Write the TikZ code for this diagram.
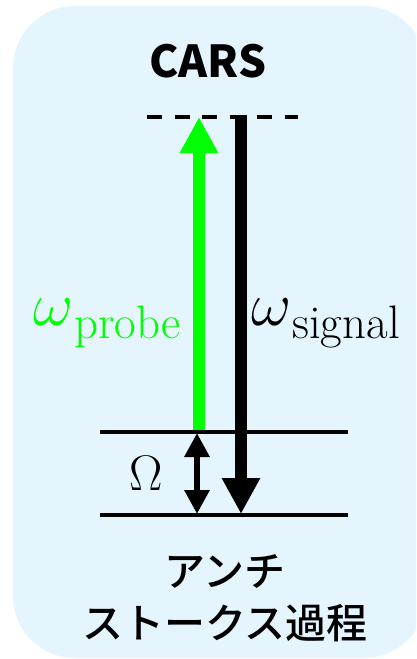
\RequirePackage{fix-cm}
\documentclass[tikz,border=0pt]{standalone}
\usepackage[no-math]{fontspec}
\usepackage{amsmath}
\usetikzlibrary{arrows.meta}
\newfontfamily\cjk{Noto Sans CJK JP}
\newfontfamily\cjkmed{Noto Sans CJK JP Medium}
\definecolor{panel}{RGB}{228,245,253}
\definecolor{probegreen}{RGB}{0,255,0}

\begin{document}
\begin{tikzpicture}
    	[x=1pt, y=1pt,
    	 level/.style={line width=4pt},
    	 virtual/.style={line width=4.5pt, dash pattern=on 15pt off 12.5pt},
    	 beam/.style={line width=12pt, -{Triangle[width=36pt, length=36pt]}},
    	 gap/.style={line width=6pt, {Triangle[width=24pt, length=24pt]}-{Triangle[width=24pt, length=24pt]}},
    	 title/.style={font=\cjk\bfseries\fontsize{44}{50}\selectfont},
    	 jp/.style={font=\cjkmed\fontsize{41}{52}\selectfont, align=center}]
    	\useasboundingbox (0,0) rectangle (416,-659);
    	\begin{scope}
    	    \clip (0,0) rectangle (416,-659);
    	    \fill[panel, rounded corners=62pt] (13,-6) rectangle (426,-658);
    	\end{scope}
	
    	\node (title) at (208,-61) [title] {CARS};
	
    	% energy levels
    	\coordinate (vl) at (147,-117);
    	\coordinate (vr) at (298,-117);
    	\coordinate (el) at (100,-432);
    	\coordinate (er) at (348,-432);
    	\coordinate (gl) at (100,-515);
    	\coordinate (gr) at (348,-515);
    	\draw[virtual] (vl) -- (vr);
    	\draw[level] (el) -- (er);
    	\draw[level] (gl) -- (gr);
	
    	% transitions
    	\coordinate (pb) at (199,-430);
    	\coordinate (pt) at (199,-117);
    	\coordinate (st) at (241,-115);
    	\coordinate (sb) at (241,-514);
    	\coordinate (ot) at (197,-433);
    	\coordinate (ob) at (197,-514);
    	\draw[beam, probegreen] (pb) -- (pt);
    	\draw[beam] (st) -- (sb);
    	\draw[gap] (ob) -- (ot);
	
    	\node (probe) at (33,-325) [anchor=base west, inner sep=0pt, text=probegreen]
    	    {\fontsize{62}{66}\selectfont$\omega$\hspace{1pt}\raisebox{-13pt}{\fontsize{47}{52}\selectfont probe}};
    	\node (signal) at (251,-325) [anchor=base west, inner sep=0pt]
    	    {\fontsize{62}{66}\selectfont$\omega$\hspace{1pt}\raisebox{-13pt}{\fontsize{47}{52}\selectfont signal}};
    	\node (omega) at (146,-490) [anchor=base] {\fontsize{50}{56}\selectfont$\Omega$};
	
    	\node (process) at (225,-598) [jp] {アンチ\\ストークス過程};
\end{tikzpicture}
\end{document}
